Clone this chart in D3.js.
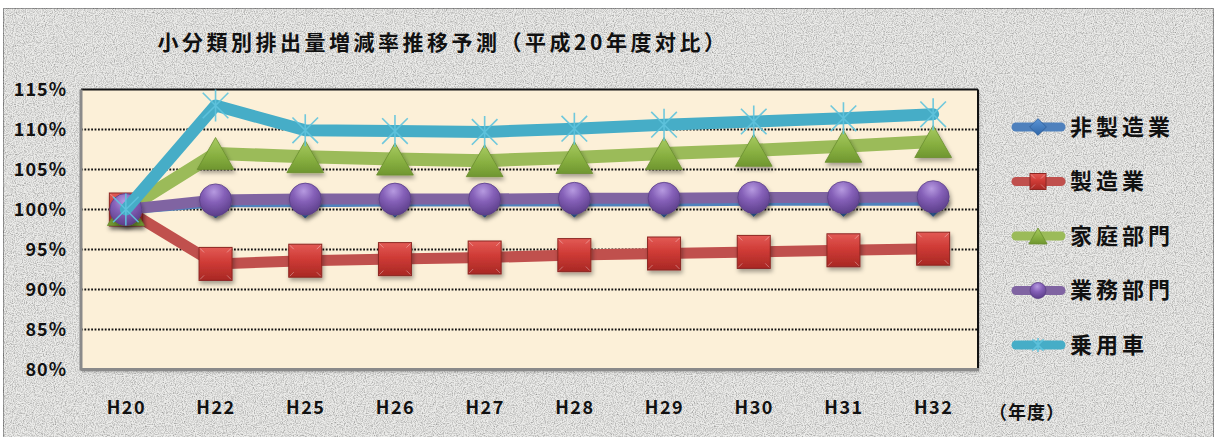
<!DOCTYPE html>
<html>
<head>
<meta charset="utf-8">
<script src="https://cdnjs.cloudflare.com/ajax/libs/d3/7.8.5/d3.min.js"></script>
<style>
  html, body { margin: 0; padding: 0; background: #ffffff; }
  svg { display: block; }
  text { font-family: "Noto Sans CJK JP", "Noto Sans", sans-serif; font-weight: 700; fill: #111; }
</style>
</head>
<body>
<svg id="chart" width="1222" height="437"></svg>
<script>
// Fiscal years (Heisei era) on the horizontal axis
const categories = ["H20", "H22", "H25", "H26", "H27", "H28", "H29", "H30", "H31", "H32"];

// Emission change ratios, % of the H20 level
const nonManufacturing = [100, 100.9, 100.9, 101.0, 101.0, 101.0, 101.0, 101.1, 101.1, 101.1];
const manufacturing    = [100, 93.2, 93.6, 93.8, 94.0, 94.3, 94.5, 94.7, 94.9, 95.1];
const household        = [100, 107.0, 106.6, 106.3, 106.1, 106.5, 107.0, 107.4, 107.9, 108.5];
const business         = [100, 101.2, 101.3, 101.3, 101.3, 101.4, 101.4, 101.5, 101.5, 101.6];
const passengerCar     = [100, 113.0, 109.9, 109.8, 109.7, 110.1, 110.6, 111.0, 111.4, 111.9];

const seriesNames = ["非製造業", "製造業", "家庭部門", "業務部門", "乗用車"];
const yTicks = [80, 85, 90, 95, 100, 105, 110, 115];
const titleText = "小分類別排出量増減率推移予測（平成20年度対比）";
const xUnitText = "（年度）";

const seriesData = [nonManufacturing, manufacturing, household, business, passengerCar];
const styles = [
  { color: "#4F81BD", width: 10, marker: "diamond" },
  { color: "#C0504D", width: 11, marker: "square" },
  { color: "#9BBB59", width: 13, marker: "triangle" },
  { color: "#8064A2", width: 11, marker: "circle" },
  { color: "#46ADC7", width: 12, marker: "star" }
];

const svg = d3.select("#chart");
const W = 1222, H = 437;
const plot = { left: 81, right: 978, top: 89.5, bottom: 369.5 };

const defs = svg.append("defs");

// paper grain
const grain = defs.append("filter").attr("id", "grain").attr("x", 0).attr("y", 0).attr("width", 1).attr("height", 1);
grain.append("feTurbulence").attr("type", "fractalNoise").attr("baseFrequency", 0.9).attr("numOctaves", 2).attr("seed", 4).attr("result", "n");
grain.append("feColorMatrix").attr("in", "n").attr("type", "matrix")
  .attr("values", "0 0 0 0 0  0 0 0 0 0  0 0 0 0 0  0 0 0 -1.2 0.75").attr("result", "a");
grain.append("feComposite").attr("in", "a").attr("in2", "SourceGraphic").attr("operator", "in").attr("result", "g");
grain.append("feMerge").call(m => { m.append("feMergeNode").attr("in", "SourceGraphic"); m.append("feMergeNode").attr("in", "g"); });

const shadow = defs.append("filter").attr("id", "shadow").attr("x", "-50%").attr("y", "-50%").attr("width", "200%").attr("height", "200%");
shadow.append("feDropShadow").attr("dx", 1.5).attr("dy", 3).attr("stdDeviation", 2).attr("flood-color", "#000").attr("flood-opacity", 0.35);

const plotShadow = defs.append("filter").attr("id", "plotShadow").attr("x", "-5%").attr("y", "-5%").attr("width", "110%").attr("height", "115%");
plotShadow.append("feDropShadow").attr("dx", 1).attr("dy", 2).attr("stdDeviation", 1.5).attr("flood-color", "#000").attr("flood-opacity", 0.35);

function linGrad(id, stops, vertical = true) {
  const g = defs.append("linearGradient").attr("id", id)
    .attr("x1", 0).attr("y1", 0).attr("x2", vertical ? 0 : 1).attr("y2", vertical ? 1 : 0);
  stops.forEach(s => g.append("stop").attr("offset", s[0]).attr("stop-color", s[1]));
}
linGrad("gSquare", [[0, "#E25A55"], [0.45, "#CF3B36"], [1, "#A82824"]]);
linGrad("gTri", [[0, "#A8CB62"], [0.6, "#86AE3F"], [1, "#6F9630"]]);
linGrad("gDiamond", [[0, "#5C95D6"], [1, "#2F66A8"]]);
const rg = defs.append("radialGradient").attr("id", "gCircle").attr("cx", "45%").attr("cy", "25%").attr("r", "75%");
rg.append("stop").attr("offset", 0).attr("stop-color", "#B69AE0");
rg.append("stop").attr("offset", 0.45).attr("stop-color", "#8560B8");
rg.append("stop").attr("offset", 1).attr("stop-color", "#5C3F8A");

// outer chart area
svg.append("rect").attr("x", 0).attr("y", 0).attr("width", W).attr("height", H).attr("fill", "#ffffff");
svg.append("rect").attr("x", 3).attr("y", 8).attr("width", 1211).attr("height", H)
  .attr("fill", "#ECECEA").attr("stroke", "#9a9a9a").attr("stroke-width", 2).attr("filter", "url(#grain)");

// plot area
svg.append("rect").attr("x", plot.left).attr("y", plot.top)
  .attr("width", plot.right - plot.left).attr("height", plot.bottom - plot.top)
  .attr("fill", "#FCF0D8").attr("filter", "url(#plotShadow)");

const x = d3.scalePoint().domain(categories).range([plot.left, plot.right]).padding(0.5);
const y = d3.scaleLinear().domain([80, 115]).range([plot.bottom, plot.top]);

// dotted gridlines
svg.append("g").selectAll("line").data(yTicks.filter(t => t > 80 && t < 115)).join("line")
  .attr("x1", plot.left).attr("x2", plot.right)
  .attr("y1", d => y(d)).attr("y2", d => y(d))
  .attr("stroke", "#111").attr("stroke-width", 1.8).attr("stroke-dasharray", "1.8,1.6");

// plot frame
svg.append("line").attr("x1", plot.left).attr("x2", plot.right).attr("y1", plot.top).attr("y2", plot.top)
  .attr("stroke", "#111").attr("stroke-width", 2);
svg.append("line").attr("x1", plot.right).attr("x2", plot.right).attr("y1", plot.top).attr("y2", plot.bottom)
  .attr("stroke", "#111").attr("stroke-width", 2);
svg.append("line").attr("x1", plot.left).attr("x2", plot.left).attr("y1", plot.top).attr("y2", plot.bottom + 1)
  .attr("stroke", "#8a8a8a").attr("stroke-width", 3);
svg.append("line").attr("x1", plot.left).attr("x2", plot.right + 1).attr("y1", plot.bottom).attr("y2", plot.bottom)
  .attr("stroke", "#8a8a8a").attr("stroke-width", 3);

// axes (labels only)
const yAxis = svg.append("g").attr("transform", `translate(${plot.left - 14},0)`)
  .call(d3.axisLeft(y).tickValues(yTicks).tickSize(0).tickPadding(0).tickFormat(d => d + "%"));
yAxis.select(".domain").remove();
yAxis.selectAll("text").attr("font-size", 18).attr("letter-spacing", 1)
  .attr("font-family", "\"Noto Sans CJK JP\", sans-serif").attr("font-weight", 700).attr("fill", "#111").attr("dy", "0.35em");

const xAxis = svg.append("g").attr("transform", `translate(0,${plot.bottom})`)
  .call(d3.axisBottom(x).tickSize(0).tickPadding(32));
xAxis.select(".domain").remove();
xAxis.selectAll("text").attr("font-size", 18).attr("letter-spacing", 1.5)
  .attr("font-family", "\"Noto Sans CJK JP\", sans-serif").attr("font-weight", 700).attr("fill", "#111");

svg.append("text").attr("x", 1027).attr("y", 419).attr("text-anchor", "middle")
  .attr("font-size", 18).attr("letter-spacing", 1).text(xUnitText);

// title
svg.append("text").attr("x", 443).attr("y", 50).attr("text-anchor", "middle")
  .attr("font-size", 21).attr("letter-spacing", 3.5).text(titleText);

// marker drawing
function drawMarker(g, type, color, s) {
  if (type === "diamond") {
    g.append("path").attr("d", d3.symbol(d3.symbolDiamond2, s * s * 0.7)())
      .attr("fill", "url(#gDiamond)").attr("stroke", "#2D5C96").attr("stroke-width", 0.8);
  } else if (type === "square") {
    g.append("rect").attr("x", -s / 2).attr("y", -s / 2).attr("width", s).attr("height", s)
      .attr("fill", "url(#gSquare)").attr("stroke", "#8C2622").attr("stroke-width", 1);
    g.append("path").attr("d", `M${-s / 2 + 1},${-s / 2 + 1}L${-s / 2 + 5},${-s / 2 + 5}M${s / 2 - 1},${-s / 2 + 1}L${s / 2 - 5},${-s / 2 + 5}M${-s / 2 + 1},${s / 2 - 1}L${-s / 2 + 5},${s / 2 - 5}M${s / 2 - 1},${s / 2 - 1}L${s / 2 - 5},${s / 2 - 5}`)
      .attr("stroke", "#ffffff").attr("stroke-opacity", 0.35).attr("stroke-width", 1);
  } else if (type === "triangle") {
    const w = s * 1.15, h = s;
    g.append("path").attr("d", `M0,${-h / 2}L${w / 2},${h / 2}L${-w / 2},${h / 2}Z`)
      .attr("fill", "url(#gTri)").attr("stroke", "#6A8E2E").attr("stroke-width", 0.8);
  } else if (type === "circle") {
    g.append("circle").attr("r", s / 2).attr("fill", "url(#gCircle)")
      .attr("stroke", "#5B3F86").attr("stroke-width", 0.8);
  } else if (type === "star") {
    const r = s / 2;
    const a = r * 0.8;
    g.append("path").attr("d", `M0,${-r}L0,${r}M${-a},${-a}L${a},${a}M${a},${-a}L${-a},${a}`)
      .attr("stroke", "#5FC3DD").attr("stroke-width", 1.6).attr("fill", "none").attr("stroke-opacity", 0.9);
  }
}

const markerSize = { diamond: 30, square: 33, triangle: 32, circle: 32, star: 32 };
const line = d3.line().x((d, i) => x(categories[i])).y(d => y(d));

seriesData.forEach((vals, si) => {
  const st = styles[si];
  const g = svg.append("g").attr("class", "series");
  g.append("path").datum(vals).attr("d", line)
    .attr("fill", "none").attr("stroke", st.color).attr("stroke-width", st.width)
    .attr("stroke-linejoin", "round").attr("stroke-linecap", "round");
  g.selectAll("g.mk").data(vals).join("g").attr("class", "mk")
    .attr("transform", (d, i) => `translate(${x(categories[i])},${y(d)})`)
    .attr("filter", st.marker === "star" ? null : "url(#shadow)")
    .each(function () { drawMarker(d3.select(this), st.marker, st.color, markerSize[st.marker]); });
});

// legend
const legendY = d3.scalePoint().domain(seriesNames).range([127, 345]);
const legend = svg.append("g");
seriesNames.forEach((name, i) => {
  const st = styles[i];
  const cy = legendY(name);
  legend.append("line").attr("x1", 1016).attr("x2", 1061).attr("y1", cy).attr("y2", cy)
    .attr("stroke", st.color).attr("stroke-width", 9).attr("stroke-linecap", "round");
  const mg = legend.append("g").attr("transform", `translate(1038,${cy})`);
  drawMarker(mg, st.marker, st.color, st.marker === "star" ? 14 : 16);
  legend.append("text").attr("x", 1070).attr("y", cy).attr("dy", "0.36em")
    .attr("font-size", 22).attr("letter-spacing", 4).text(name);
});
</script>
</body>
</html>
